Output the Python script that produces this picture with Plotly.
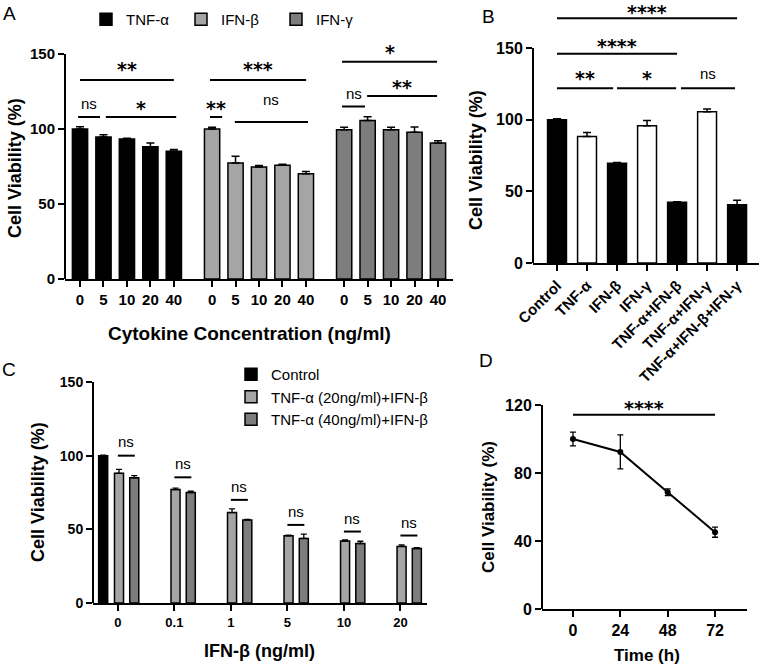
import plotly.graph_objects as go

W, H = 760, 667
FONT = "Liberation Sans, Arial, sans-serif"
STAR_FONT = "DejaVu Sans, sans-serif"

# ---------------- Panel A data ----------------
a_conc = ["0", "5", "10", "20", "40"]
a_names = ["TNF-α", "IFN-β", "IFN-γ"]
a_tnf = [100, 94.6, 93.4, 88.1, 85.2]
a_tnf_err = [1.5, 1.6, 0.5, 2.6, 1.1]
a_ifnb = [100, 77.4, 74.7, 75.8, 70.2]
a_ifnb_err = [1.2, 4.4, 0.9, 0.7, 1.5]
a_ifng = [99.5, 105.6, 99.5, 97.9, 90.6]
a_ifng_err = [1.6, 2.6, 1.6, 3.5, 1.5]
# (label, x0, x1, line y, text y) in bar-index units
a_sig = [
    ("**", 0.0, 4.0, 132.7, 142.5),
    ("ns", -0.08, 0.85, 108, 116.7),
    ("*", 1.1, 4.1, 108, 116.7),
    ("***", 5.54, 9.64, 132.7, 142.7),
    ("**", 5.54, 6.06, 108, 116.7),
    ("ns", 6.6, 9.72, 104.7, 120),
    ("*", 11.17, 15.22, 144.9, 154),
    ("**", 12.24, 15.22, 122, 131),
    ("ns", 11.17, 12.15, 115, 124),
]

# ---------------- Panel B data ----------------
b_groups = ["Control", "TNF-α", "IFN-β", "IFN-γ", "TNF-α+IFN-β", "TNF-α+IFN-γ", "TNF-α+IFN-β+IFN-γ"]
b_vals = [100, 88.3, 69.6, 95.8, 42.3, 105.6, 40.7]
b_err = [0.7, 2.8, 0.5, 3.7, 0.5, 1.9, 3.0]
b_fill = ["black", "white", "black", "white", "black", "white", "black"]
b_sig = [
    ("****", 0, 6, 170.7, 178),
    ("****", 0, 4, 146, 154),
    ("**", 0, 1.87, 122, 132),
    ("*", 2.0, 3.97, 122, 132),
    ("ns", 4.13, 5.93, 122, 132),
]

# ---------------- Panel C data ----------------
c_doses = ["0", "0.1", "1", "5", "10", "20"]
c_control_x = ["0"]
c_control = [100]
c_control_err = [0.4]
c_tnf20 = [88.0, 77.0, 61.4, 45.6, 42.0, 38.4]
c_tnf20_err = [2.7, 1.0, 2.5, 0.5, 0.8, 1.0]
c_tnf40 = [85.0, 75.0, 56.4, 43.8, 40.4, 37.0]
c_tnf40_err = [1.5, 1.0, 0.3, 3.0, 1.5, 0.5]
c_names = ["Control", "TNF-α (20ng/ml)+IFN-β", "TNF-α (40ng/ml)+IFN-β"]
c_sig_line = [100, 85.3, 70, 53, 48.5, 45.8]
c_sig_text = [109.5, 94.8, 79, 62, 57.6, 54.6]

# ---------------- Panel D data ----------------
d_time = [0, 24, 48, 72]
d_vals = [100, 92.4, 68.7, 45.2]
d_err = [4, 10, 2, 3]
d_sig = [("****", 0, 72, 114.3, 120.5)]


def px(xp):
    return xp / W


def py(yp):
    return 1 - yp / H


fig = go.Figure()

# ---- Panel A bars ----
A_STEP = 5.63
a_pos = [[g * A_STEP + i for i in range(len(a_conc))] for g in range(3)]
a_series = [(a_tnf, a_tnf_err, "black"), (a_ifnb, a_ifnb_err, "#a5a5a5"), (a_ifng, a_ifng_err, "#7d7d7d")]
for g, (vals, err, col) in enumerate(a_series):
    fig.add_trace(go.Bar(
        x=a_pos[g], y=vals, width=0.65, name=a_names[g],
        marker=dict(color=col, line=dict(color="black", width=1.5)),
        error_y=dict(type="data", array=err, arrayminus=[0] * len(err), symmetric=False,
                     color="black", thickness=1.5, width=4),
        xaxis="x", yaxis="y", legend="legend",
    ))

# ---- Panel B bars ----
fig.add_trace(go.Bar(
    x=b_groups, y=b_vals, width=0.63, showlegend=False,
    marker=dict(color=b_fill, line=dict(color="black", width=1.5)),
    error_y=dict(type="data", array=b_err, arrayminus=[0] * len(b_err), symmetric=False,
                 color="black", thickness=1.5, width=4),
    xaxis="x2", yaxis="y2",
))

# ---- Panel C bars ----
C_W = 0.16
c_centers = [-0.26, 0.02, 0.29]
c_series = [(c_control_x, c_control, c_control_err, "black"),
            (c_doses, c_tnf20, c_tnf20_err, "#a5a5a5"),
            (c_doses, c_tnf40, c_tnf40_err, "#7d7d7d")]
for k, (xs, vals, err, col) in enumerate(c_series):
    fig.add_trace(go.Bar(
        x=xs, y=vals, width=C_W, offset=c_centers[k] - C_W / 2, name=c_names[k],
        marker=dict(color=col, line=dict(color="black", width=1.5)),
        error_y=dict(type="data", array=err, arrayminus=[0] * len(err), symmetric=False,
                     color="black", thickness=1.3, width=3),
        xaxis="x3", yaxis="y3", legend="legend2",
    ))

# ---- Panel D line ----
fig.add_trace(go.Scatter(
    x=d_time, y=d_vals, mode="lines+markers", showlegend=False,
    line=dict(color="black", width=2), marker=dict(color="black", size=6),
    error_y=dict(type="data", array=d_err, color="black", thickness=1.3, width=3),
    xaxis="x4", yaxis="y4",
))

tickfont_common = dict(family=FONT, color="black", weight="bold")
axis_common = dict(showgrid=False, zeroline=False, ticks="outside", ticklen=6, tickwidth=2,
                   tickcolor="black", linecolor="black", linewidth=2, fixedrange=True,
                   automargin=False)

fig.update_layout(
    xaxis=dict(domain=[px(65), px(453)], range=[-0.64, 15.9], anchor="y", showline=True,
               tickvals=[p for grp in a_pos for p in grp], ticktext=a_conc * 3,
               tickfont=dict(size=15, **tickfont_common), **axis_common),
    yaxis=dict(domain=[py(279), py(20)], range=[0, (279 - 20) / 1.5], anchor="x", showline=False,
               tickvals=[0, 50, 100, 150], tickfont=dict(size=15, **tickfont_common), **axis_common),
    xaxis2=dict(domain=[px(533), px(759)], range=[-0.8, 6.73], anchor="y2", showline=True,
                type="category", tickangle=-45,
                tickfont=dict(size=15, **tickfont_common), **axis_common),
    yaxis2=dict(domain=[py(263), py(2)], range=[0, (263 - 2) / 1.4333], anchor="x2", showline=False,
                tickvals=[0, 50, 100, 150], tickfont=dict(size=16, **tickfont_common), **axis_common),
    xaxis3=dict(domain=[px(93), px(427)], range=[-0.44, 5.47], anchor="y3", showline=True,
                type="category", categoryorder="array", categoryarray=c_doses,
                tickfont=dict(size=13, **tickfont_common), **axis_common),
    yaxis3=dict(domain=[py(603), py(382)], range=[0, 150], anchor="x3", showline=False,
                tickvals=[0, 50, 100, 150], tickfont=dict(size=14, **tickfont_common), **axis_common),
    xaxis4=dict(domain=[px(542), px(747)], range=[-15.7, 88.2], anchor="y4", showline=True,
                tickvals=d_time, tickfont=dict(size=16, **tickfont_common), **axis_common),
    yaxis4=dict(domain=[py(609), py(385)], range=[0, (609 - 385) / 1.7], anchor="x4", showline=False,
                tickvals=[0, 40, 80, 120], tickfont=dict(size=16, **tickfont_common), **axis_common),
)

shapes = []
annotations = []

# y-axis lines up to the top tick
for xr, yr, top in [("x", "y", 150), ("x2", "y2", 150), ("x3", "y3", 150), ("x4", "y4", 120)]:
    shapes.append(dict(type="line", xref=xr + " domain", yref=yr, x0=0, x1=0, y0=0, y1=top,
                       line=dict(color="black", width=2)))


def sig(label, x0, x1, yl, yt, xr, yr):
    shapes.append(dict(type="line", xref=xr, yref=yr, x0=x0, x1=x1, y0=yl, y1=yl,
                       line=dict(color="black", width=2)))
    if label == "ns":
        font = dict(family=FONT, size=15, color="black")
        ys = 0
    else:
        font = dict(family=STAR_FONT, size=19, color="black", weight="bold")
        ys = -4
    annotations.append(dict(text=label, x=(x0 + x1) / 2, y=yt, xref=xr, yref=yr, showarrow=False,
                            xanchor="center", yanchor="middle", yshift=ys, font=font))


for s in a_sig:
    sig(*s, "x", "y")
for s in b_sig:
    sig(*s, "x2", "y2")
for i in range(len(c_doses)):
    sig("ns", i + 0.0, i + 0.3, c_sig_line[i], c_sig_text[i], "x3", "y3")
for s in d_sig:
    sig(*s, "x4", "y4")

# axis titles
title_font = dict(family=FONT, size=18, color="black", weight="bold")
for text, xp, yp, ang, size in [
    ("Cell Viability (%)", 15, 168, -90, 18),
    ("Cell Viability (%)", 476, 160, -90, 18),
    ("Cell Viability (%)", 38, 492, -90, 18),
    ("Cell Viability (%)", 489, 507, -90, 17),
    ("Cytokine Concentration (ng/ml)", 249, 333, 0, 19),
    ("IFN-β (ng/ml)", 259, 651, 0, 18),
    ("Time (h)", 647, 655, 0, 17),
]:
    f = dict(title_font)
    f["size"] = size
    annotations.append(dict(text=text, x=px(xp), y=py(yp), xref="paper", yref="paper", showarrow=False,
                            xanchor="center", yanchor="middle", textangle=ang, font=f))

# panel letters
for text, xp, yp in [("A", 9, 14), ("B", 488, 17), ("C", 9, 369), ("D", 486, 360)]:
    annotations.append(dict(text=text, x=px(xp), y=py(yp), xref="paper", yref="paper", showarrow=False,
                            xanchor="center", yanchor="middle",
                            font=dict(family=FONT, size=19, color="black")))

fig.update_layout(
    width=W, height=H, margin=dict(l=0, r=0, t=0, b=0, autoexpand=False),
    paper_bgcolor="white", plot_bgcolor="white", barmode="overlay",
    shapes=shapes, annotations=annotations,
    legend=dict(orientation="h", x=px(86), y=py(3), xanchor="left", yanchor="top",
                font=dict(family=FONT, size=15, color="black"), bgcolor="rgba(0,0,0,0)",
                entrywidth=50, entrywidthmode="pixels"),
    legend2=dict(orientation="v", x=px(231), y=py(358), xanchor="left", yanchor="top",
                 font=dict(family=FONT, size=15, color="black"), bgcolor="rgba(0,0,0,0)"),
)

fig.write_html("out.html", config={"displayModeBar": False},
               post_script="document.body.style.margin='0px';")
